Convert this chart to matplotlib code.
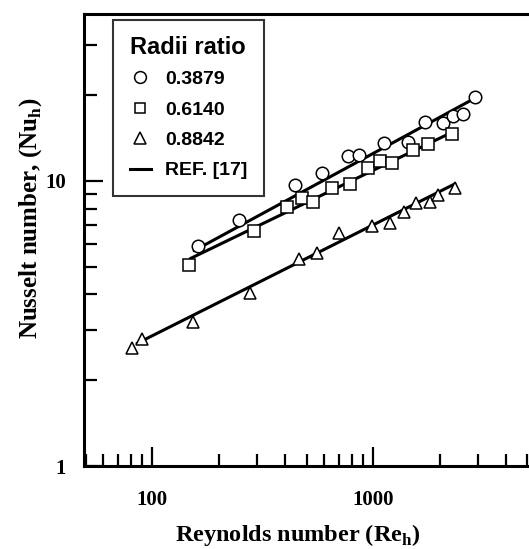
import matplotlib
matplotlib.use("Agg")
import matplotlib.pyplot as plt
import numpy as np
from matplotlib.lines import Line2D
from matplotlib.ticker import FixedLocator, FixedFormatter, LogLocator, NullFormatter

# radii ratio 0.3879 (circles)
re_a = [162, 248, 444, 588, 771, 865, 1122, 1440, 1718, 2073, 2301, 2553, 2896]
nu_a = [5.93, 7.30, 9.68, 10.66, 12.23, 12.33, 13.58, 13.68, 16.07, 15.95, 16.87, 17.15, 19.67]

# radii ratio 0.6140 (squares)
re_b = [147, 289, 408, 477, 535, 652, 787, 949, 1076, 1219, 1517, 1774, 2275]
nu_b = [5.05, 6.68, 8.11, 8.72, 8.45, 9.45, 9.76, 11.10, 11.75, 11.56, 12.83, 13.46, 14.59]

# radii ratio 0.8842 (triangles)
re_c = [81.2, 90.1, 153, 278, 462, 558, 702, 990, 1194, 1381, 1565, 1811, 1968, 2350]
nu_c = [2.59, 2.80, 3.19, 4.06, 5.34, 5.60, 6.58, 6.96, 7.13, 7.79, 8.38, 8.45, 8.93, 9.45]

# Ref. [17] correlation Nu = C * Re^n for each radii ratio
ref_C = [0.681, 0.822, 0.477]
ref_n = [0.421, 0.374, 0.389]
ref_re_min = [155, 149, 85.5]
ref_re_max = [2894, 2350, 2350]

legend_labels = ["0.3879", "0.6140", "0.8842", "REF. [17]"]

plt.rcParams["mathtext.fontset"] = "custom"
plt.rcParams["mathtext.bf"] = "Liberation Serif:bold"
plt.rcParams["mathtext.rm"] = "Liberation Serif:bold"

fig = plt.figure(figsize=(5.29, 5.49), dpi=100)
ax = fig.add_axes([84 / 529, 1 - 466 / 549, 510 / 529, 452 / 549])
ax.set_xscale("log")
ax.set_yscale("log")

# reference lines
for C, n, lo, hi in zip(ref_C, ref_n, ref_re_min, ref_re_max):
    re = np.geomspace(lo, hi, 60)
    ax.plot(re, C * re ** n, color="black", lw=2.2, solid_capstyle="round", zorder=2)

mk = dict(ls="none", mfc="white", mec="black", mew=1.1, zorder=3)
ax.plot(re_a, nu_a, marker="o", ms=9, **mk)
ax.plot(re_b, nu_b, marker="s", ms=8, **mk)
ax.plot(re_c, nu_c, marker="^", ms=9, **mk)

ax.set_xlim(49.2, 10000)
ax.set_ylim(1, 38.5)

for side in ["left", "top", "bottom"]:
    ax.spines[side].set_linewidth(2.2)
ax.spines["right"].set_visible(False)

ax.xaxis.set_major_locator(FixedLocator([100, 1000]))
ax.xaxis.set_major_formatter(FixedFormatter(["100", "1000"]))
ax.yaxis.set_major_locator(FixedLocator([1, 10]))
ax.yaxis.set_major_formatter(FixedFormatter(["1", "10"]))
ax.xaxis.set_minor_locator(LogLocator(base=10, subs=range(2, 10), numticks=20))
ax.yaxis.set_minor_locator(LogLocator(base=10, subs=range(2, 10), numticks=20))
ax.xaxis.set_minor_formatter(NullFormatter())
ax.yaxis.set_minor_formatter(NullFormatter())
ax.tick_params(which="major", direction="in", length=14, width=1.6, top=False, right=False)
ax.tick_params(which="minor", direction="in", length=9, width=1.6, top=False, right=False)
ax.tick_params(axis="x", which="major", pad=17)
ax.tick_params(axis="y", which="major", pad=13)
for lab in ax.get_xticklabels() + ax.get_yticklabels():
    lab.set_fontfamily("Liberation Serif")
    lab.set_fontweight("bold")
    lab.set_fontsize(15)

fig.text(298 / 529, 1 - 535 / 549, r"Reynolds number (Re$_{\mathbf{h}}$)",
         ha="center", va="center", fontsize=17.5, fontweight="bold",
         family="Liberation Serif")
fig.text(31 / 529, 1 - 218 / 549, r"Nusselt number, (Nu$_{\mathbf{h}}$)",
         ha="center", va="center", rotation=90, fontsize=18, fontweight="bold",
         family="Liberation Serif")

handles = [
    Line2D([], [], marker="o", ms=8.5, ls="none", mfc="white", mec="black", mew=1.1),
    Line2D([], [], marker="s", ms=7.5, ls="none", mfc="white", mec="black", mew=1.1),
    Line2D([], [], marker="^", ms=8.5, ls="none", mfc="white", mec="black", mew=1.1),
    Line2D([], [], color="black", lw=2.2),
]
leg = ax.legend(handles, legend_labels, title="Radii ratio", loc="upper left",
                bbox_to_anchor=(0.057, 0.987), borderaxespad=0, frameon=True,
                fancybox=False, edgecolor="black", handlelength=1.1,
                handletextpad=0.72, labelspacing=0.66, borderpad=0.85,
                alignment="left",
                prop=dict(family="Liberation Sans", weight="bold", size=14),
                title_fontproperties=dict(family="Liberation Sans", weight="bold", size=17))
leg.get_frame().set_linewidth(1.5)
# tighter gap between the title and the first entry
leg._legend_box.sep = 8

plt.savefig("out.png", dpi=100, facecolor="white")
plt.close()
